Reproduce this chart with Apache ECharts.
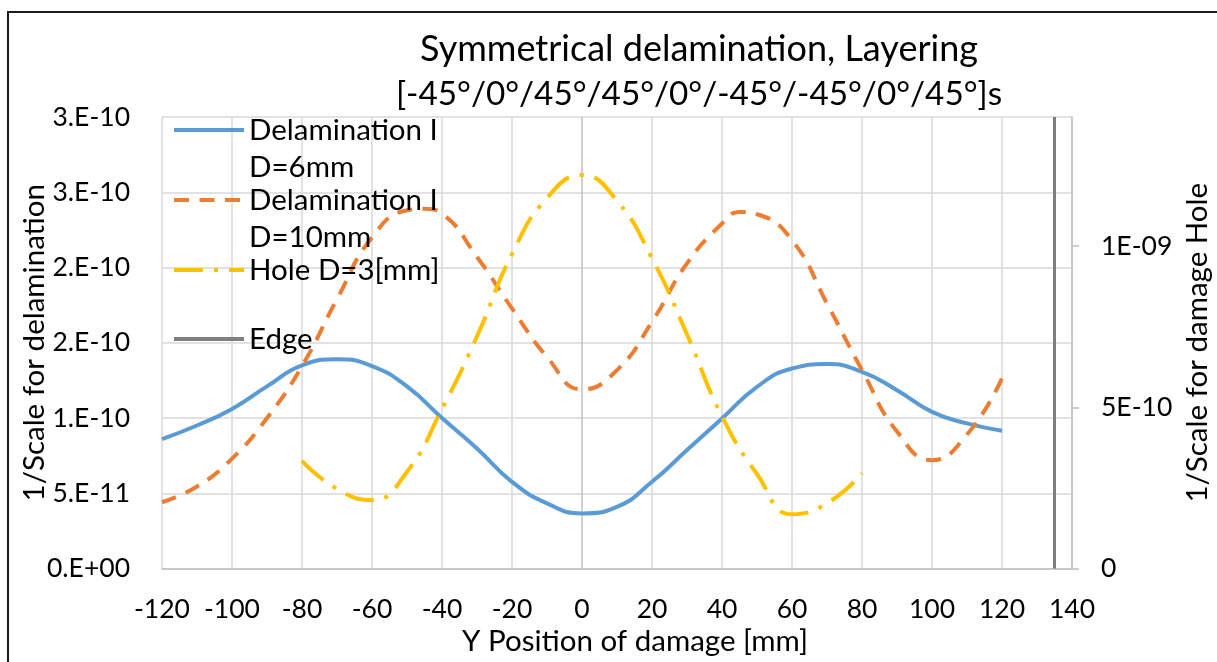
<!DOCTYPE html>
<html>
<head>
<meta charset="utf-8">
<script src="https://cdn.jsdelivr.net/npm/echarts@6/dist/echarts.min.js"></script>
<style>
  html, body { margin: 0; padding: 0; background: #fff; }
  #chart { width: 1217px; height: 662px; }
</style>
</head>
<body>
<div id="chart"></div>
<script>
// Damage position along Y [mm]
const positions = [-120, -110, -100, -90, -80, -70, -60, -50, -40, -30, -20, -10, 0,
                   10, 20, 30, 40, 50, 60, 70, 80, 90, 100, 110, 120];
const d10Positions = [-120, -110, -100, -90, -80, -70, -60, -50, -45, -40, -30, -20, -10, 0,
                      10, 20, 30, 40, 45, 50, 60, 70, 80, 90, 100, 110, 120];
const holePositions = [-80, -70, -60, -50, -40, -30, -20, -10, 0, 10, 20, 30, 40, 50, 60, 70, 80];

// 1/Scale values
const delamD6 = [8.6e-11, 9.5e-11, 1.06e-10, 1.21e-10, 1.35e-10, 1.39e-10, 1.345e-10, 1.21e-10,
                 1.0e-10, 7.98e-11, 5.76e-11, 4.33e-11, 3.66e-11, 4.1e-11, 5.76e-11, 7.87e-11,
                 9.97e-11, 1.207e-10, 1.329e-10, 1.358e-10, 1.307e-10, 1.185e-10, 1.041e-10,
                 9.64e-11, 9.15e-11];
const delamD10 = [4.4e-11, 5.45e-11, 7.3e-11, 1.0e-10, 1.345e-10, 1.79e-10, 2.2e-10, 2.38e-10,
                  2.39e-10, 2.358e-10, 2.07e-10, 1.728e-10, 1.406e-10, 1.19e-10, 1.318e-10,
                  1.639e-10, 2.027e-10, 2.292e-10, 2.369e-10, 2.354e-10, 2.181e-10, 1.761e-10,
                  1.318e-10, 9.1e-11, 7.2e-11, 8.9e-11, 1.263e-10];
const holeD3 = [3.34e-10, 2.47e-10, 2.12e-10, 3.0e-10, 4.95e-10, 7.2e-10, 9.75e-10, 1.149e-9,
                1.22e-9, 1.14e-9, 9.62e-10, 7.26e-10, 4.72e-10, 2.93e-10, 1.68e-10, 2.02e-10, 2.95e-10];

// Plate edge
const edgeX = 135;
const edgeSpan = [0, 3e-10];

const seriesNames = ['Delamination I\nD=6mm', 'Delamination I\nD=10mm', 'Hole D=3[mm]', 'Edge'];
const titleLines = ['Symmetrical delamination, Layering', '[-45°/0°/45°/45°/0°/-45°/-45°/0°/45°]s'];

// Axis tick labels
const xTicks = { min: -120, max: 140, step: 20 };
const leftTickLabels = ['0.E+00', '5.E-11', '1.E-10', '2.E-10', '2.E-10', '3.E-10', '3.E-10'];
const leftStep = 5e-11;
const rightTickValues = [0, 5e-10, 1e-9];
const rightTickLabels = ['0', '5E-10', '1E-09'];

const FONT = 'Lato';
const TXT = '#000000';
const GRID = '#d9d9d9';
const AXIS = '#bfbfbf';
const LH = 37;
const NUM_SIZE = 26.5;
const NAME_SIZE = 29.5;
const LEGEND_SIZE = 29.5;
const LINE_W = 4;

const pairs = (xs, ys) => xs.map((x, i) => [x, ys[i]]);

// vertical grid colors: darker line where the value axis crosses x = 0
const xGridColors = [];
for (let v = xTicks.min; v <= xTicks.max; v += xTicks.step) {
  xGridColors.push(v === 0 ? AXIS : GRID);
}

const chart = echarts.init(document.getElementById('chart'), null, { renderer: 'canvas' });

// each legend entry is placed on its own; the icon sits on the first text line
const legendBase = {
  orient: 'vertical',
  left: 172,
  padding: 0,
  itemWidth: 70,
  itemHeight: 14,
  selectedMode: false,
  itemStyle: { color: 'rgba(0,0,0,0)', borderWidth: 0, opacity: 0 },
  lineStyle: { width: LINE_W },
  textStyle: { fontFamily: FONT, fontSize: LEGEND_SIZE, color: TXT, lineHeight: LH }
};
const twoLine = name => '\n' + name;

chart.setOption({
  animation: false,
  backgroundColor: '#ffffff',
  textStyle: { fontFamily: FONT },
  title: {
    text: '{a|' + titleLines[0] + '}\n{b|' + titleLines[1] + '}',
    left: 694,
    top: 22,
    textAlign: 'center',
    textStyle: {
      fontFamily: FONT, fontWeight: 'normal', color: TXT,
      rich: {
        a: { fontFamily: FONT, fontSize: 36, lineHeight: 45, color: TXT },
        b: { fontFamily: FONT, fontSize: 33.3, lineHeight: 45, color: TXT }
      }
    }
  },
  legend: [
    Object.assign({}, legendBase, { top: 130 - 1.5 * LH, formatter: twoLine, data: [seriesNames[0]] }),
    Object.assign({}, legendBase, { top: 200 - 1.5 * LH, formatter: twoLine, data: [seriesNames[1]] }),
    Object.assign({}, legendBase, { top: 270 - 0.5 * LH, data: [seriesNames[2]] }),
    Object.assign({}, legendBase, { top: 339 - 0.5 * LH, data: [seriesNames[3]] })
  ],
  grid: { left: 162, right: 145, top: 117, bottom: 93.5, containLabel: false, outerBoundsMode: 'none' },
  xAxis: {
    type: 'value',
    min: xTicks.min,
    max: xTicks.max,
    interval: xTicks.step,
    name: 'Y Position of damage [mm]',
    nameLocation: 'middle',
    nameGap: 58,
    nameMoveOverlap: false,
    nameTextStyle: { fontFamily: FONT, fontSize: NAME_SIZE, color: TXT, padding: [0, 0, 0, 36] },
    axisLine: { show: true, onZero: false, lineStyle: { color: AXIS, width: 1.5 } },
    axisTick: { show: false },
    axisLabel: { fontFamily: FONT, fontSize: NUM_SIZE, color: TXT, margin: 27, showMinLabel: true, showMaxLabel: true },
    splitLine: { show: true, lineStyle: { color: xGridColors, width: 1.5 } }
  },
  yAxis: [
    {
      type: 'value',
      position: 'left',
      min: 0,
      max: 3e-10,
      interval: leftStep,
      name: '1/Scale for delamination',
      nameLocation: 'middle',
      nameGap: 113,
      nameRotate: 90,
      nameMoveOverlap: false,
      nameTextStyle: { fontFamily: FONT, fontSize: NAME_SIZE, color: TXT },
      axisLine: { show: false, onZero: false },
      axisTick: { show: false },
      axisLabel: {
        fontFamily: FONT, fontSize: NUM_SIZE, color: TXT, margin: 32,
        formatter: v => leftTickLabels[Math.round(v / leftStep)] || ''
      },
      splitLine: { show: true, lineStyle: { color: GRID, width: 1.5 } }
    },
    {
      type: 'value',
      position: 'right',
      min: 0,
      max: 1.4e-9,
      interval: 5e-10,
      name: '1/Scale for damage Hole',
      nameLocation: 'middle',
      nameGap: 110,
      nameRotate: 90,
      nameMoveOverlap: false,
      nameTextStyle: { fontFamily: FONT, fontSize: NAME_SIZE, color: TXT },
      axisLine: { show: true, onZero: false, lineStyle: { color: AXIS, width: 1.5 } },
      axisTick: { show: true, inside: false, length: 7, lineStyle: { color: AXIS, width: 1.5 }, customValues: rightTickValues },
      axisLabel: {
        fontFamily: FONT, fontSize: NUM_SIZE, color: TXT, margin: 29,
        customValues: rightTickValues,
        formatter: v => {
          const i = rightTickValues.findIndex(t => Math.abs(t - v) < 1e-20);
          return i >= 0 ? rightTickLabels[i] : '';
        }
      },
      splitLine: { show: false }
    }
  ],
  series: [
    {
      name: seriesNames[0],
      type: 'line',
      yAxisIndex: 0,
      data: pairs(positions, delamD6),
      smooth: 0.5,
      symbol: 'none',
      lineStyle: { color: '#5B9BD5', width: LINE_W },
      itemStyle: { color: '#5B9BD5' }
    },
    {
      name: seriesNames[1],
      type: 'line',
      yAxisIndex: 0,
      data: pairs(d10Positions, delamD10),
      smooth: 0.5,
      symbol: 'none',
      lineStyle: { color: '#ED7D31', width: LINE_W, type: [15, 10.5], cap: 'butt' },
      itemStyle: { color: '#ED7D31' }
    },
    {
      name: seriesNames[2],
      type: 'line',
      yAxisIndex: 1,
      data: pairs(holePositions, holeD3),
      smooth: 0.5,
      symbol: 'none',
      lineStyle: { color: '#FFC000', width: LINE_W, type: [29, 11, 4, 11], cap: 'butt' },
      itemStyle: { color: '#FFC000' }
    },
    {
      name: seriesNames[3],
      type: 'line',
      yAxisIndex: 0,
      data: edgeSpan.map(v => [edgeX, v]),
      symbol: 'none',
      lineStyle: { color: '#7F7F7F', width: 3 },
      itemStyle: { color: '#7F7F7F' }
    }
  ],
  graphic: [
    {
      type: 'rect',
      shape: { x: 8, y: 12, width: 1260, height: 700 },
      style: { fill: null, stroke: '#1a1a1a', lineWidth: 2 },
      silent: true
    }
  ]
});
</script>
</body>
</html>
